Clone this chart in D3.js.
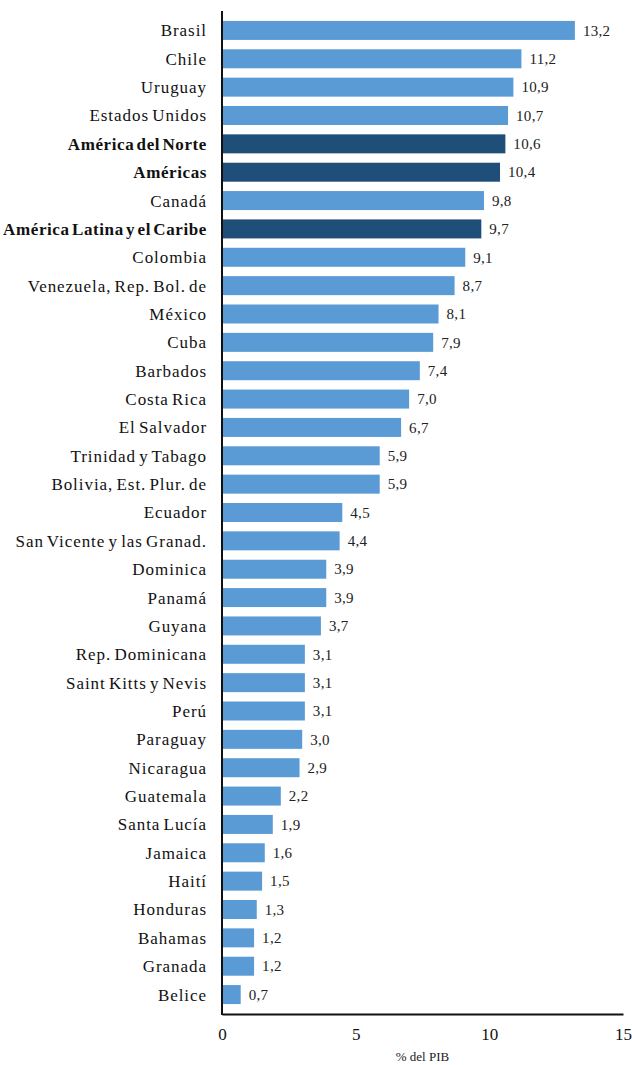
<!DOCTYPE html>
<html><head><meta charset="utf-8">
<script src="https://cdn.jsdelivr.net/npm/d3@7"></script>
</head><body style="margin:0">
<svg id="c" width="632" height="1065" font-family="Liberation Serif"></svg>
<script>
const categories = ["Brasil","Chile","Uruguay","Estados Unidos","América del Norte","Américas","Canadá","América Latina y el Caribe","Colombia","Venezuela, Rep. Bol. de","México","Cuba","Barbados","Costa Rica","El Salvador","Trinidad y Tabago","Bolivia, Est. Plur. de","Ecuador","San Vicente y las Granad.","Dominica","Panamá","Guyana","Rep. Dominicana","Saint Kitts y Nevis","Perú","Paraguay","Nicaragua","Guatemala","Santa Lucía","Jamaica","Haití","Honduras","Bahamas","Granada","Belice"];
const values = [13.2,11.2,10.9,10.7,10.6,10.4,9.8,9.7,9.1,8.7,8.1,7.9,7.4,7.0,6.7,5.9,5.9,4.5,4.4,3.9,3.9,3.7,3.1,3.1,3.1,3.0,2.9,2.2,1.9,1.6,1.5,1.3,1.2,1.2,0.7];
const aggregates = ["América del Norte","Américas","América Latina y el Caribe"];
const xTicks = [0,5,10,15];
const xTitle = "% del PIB";

const FONT = "Liberation Serif";
const svg = d3.select("#c");
const x = d3.scaleLinear().domain([0,15]).range([222,623]);
const y = d3.scaleBand().domain(categories).range([11,1014]).paddingInner(0.33).paddingOuter(0.35);
const data = categories.map((c,i)=>({c, v:values[i], agg: aggregates.includes(c)}));

svg.selectAll("rect.bar").data(data).join("rect").attr("class","bar")
  .attr("x", x(0)).attr("y", d=>y(d.c)).attr("width", d=>x(d.v)-x(0)).attr("height", y.bandwidth())
  .attr("fill", d=>d.agg ? "#1F4E79" : "#5B9BD5");

const fmt = v => d3.format(".1f")(v).replace(".", ",");
svg.selectAll("text.val").data(data).join("text").attr("class","val")
  .attr("x", d=>x(d.v)+8).attr("y", d=>y(d.c)+y.bandwidth()/2).attr("dy","0.35em")
  .attr("font-family", FONT).attr("font-size", 15).attr("letter-spacing", 0.3).attr("fill","#222").text(d=>fmt(d.v));

svg.selectAll("text.cat").data(data).join("text").attr("class","cat")
  .attr("x", 207).attr("y", d=>y(d.c)+y.bandwidth()/2).attr("dy","0.35em")
  .attr("text-anchor","end").attr("font-family", FONT).attr("font-size", 17)
  .attr("letter-spacing", d=>d.agg?0.6:0.95)
  .attr("word-spacing", d=>d.agg?-2.5:-2)
  .attr("font-weight", d=>d.agg?"bold":"normal").attr("fill","#111").text(d=>d.c);

const xAxis = d3.axisBottom(x).tickValues(xTicks).tickSize(0).tickPadding(14).tickFormat(d=>d);
const gx = svg.append("g").attr("transform","translate(0,1014)").call(xAxis);
gx.attr("font-family", FONT);
gx.select(".domain").attr("stroke","#111").attr("stroke-width",2);
gx.selectAll("text").attr("font-size", 17).attr("fill","#111");

svg.append("line").attr("x1",x(0)).attr("x2",x(0)).attr("y1",11).attr("y2",1015)
  .attr("stroke","#111").attr("stroke-width",2);

svg.append("text").attr("x", (x(0)+x(15))/2).attr("y", 1061).attr("text-anchor","middle")
  .attr("font-family", FONT).attr("font-size", 13).attr("fill","#222").text(xTitle);
</script></body></html>
